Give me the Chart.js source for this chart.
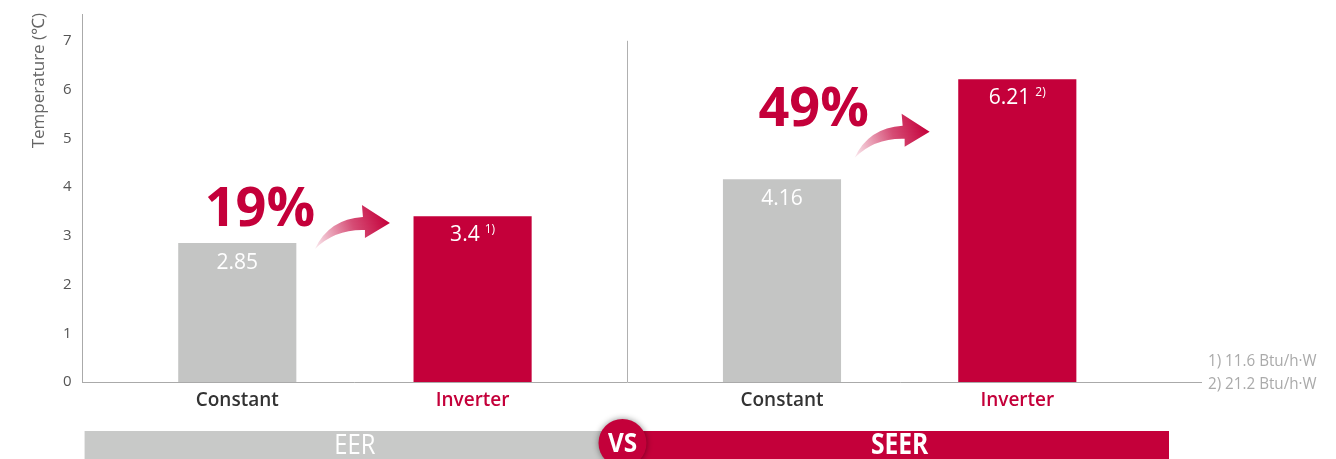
<!DOCTYPE html>
<html>
<head>
<meta charset="utf-8">
<script src="https://cdn.jsdelivr.net/npm/chart.js@4/dist/chart.umd.min.js"></script>
<style>
  html, body { margin: 0; padding: 0; background: #fff; }
  #wrap { width: 1336px; height: 459px; position: relative; }
</style>
</head>
<body>
<div id="wrap"><canvas id="c"></canvas></div>
<script>
// ---- data ----
const groups = ['EER', 'SEER'];
const seriesNames = ['Constant', 'Inverter'];
const constantValues = [2.85, 4.16];
const inverterValues = [3.4, 6.21];
const footnoteMarks = ['1)', '2)'];
const footnotes = ['1) 11.6 Btu/h\u00b7W', '2) 21.2 Btu/h\u00b7W'];
const gains = ['19%', '49%'];
const yTicks = [0, 1, 2, 3, 4, 5, 6, 7];
const yTitle = 'Temperature (\u2103)';

const GREY = '#c4c5c4';
const RED = '#c4003a';
const FONT = '"Open Sans", "Noto Sans", sans-serif';

function drawArrow(ctx, tx, ty) {
  const g = ctx.createLinearGradient(tx, ty, tx + 75, ty - 26);
  g.addColorStop(0, 'rgba(196,0,58,0.08)');
  g.addColorStop(0.55, 'rgba(196,0,58,0.7)');
  g.addColorStop(1, 'rgba(196,0,58,1)');
  ctx.save();
  ctx.fillStyle = g;
  ctx.beginPath();
  ctx.moveTo(tx, ty);
  ctx.quadraticCurveTo(tx + 14, ty - 30, tx + 48, ty - 32);
  ctx.lineTo(tx + 47, ty - 44);
  ctx.lineTo(tx + 75, ty - 26);
  ctx.lineTo(tx + 50, ty - 11);
  ctx.lineTo(tx + 50, ty - 19);
  ctx.quadraticCurveTo(tx + 20, ty - 20, tx, ty);
  ctx.closePath();
  ctx.fill();
  ctx.restore();
}

function condensedText(ctx, text, x, y, sx) {
  ctx.save();
  ctx.translate(x, y);
  ctx.scale(sx, 1);
  ctx.fillText(text, 0, 0);
  ctx.restore();
}

const decor = {
  id: 'decor',
  afterDatasetsDraw(chart) {
    const ctx = chart.ctx;
    const area = chart.chartArea;
    const xs = chart.scales.x, ys = chart.scales.y;
    const m0 = chart.getDatasetMeta(0).data;
    const m1 = chart.getDatasetMeta(1).data;
    ctx.save();

    // y-axis title (top aligned, rotated)
    ctx.save();
    ctx.translate(area.left - 43, area.top - 1);
    ctx.rotate(-Math.PI / 2);
    ctx.fillStyle = '#666666';
    ctx.font = '17px ' + FONT;
    ctx.textAlign = 'right';
    ctx.textBaseline = 'middle';
    ctx.fillText(yTitle, 0, 0);
    ctx.restore();

    // extended x-axis line
    ctx.strokeStyle = '#aaaaaa';
    ctx.lineWidth = 1;
    ctx.beginPath();
    ctx.moveTo(area.right, area.bottom + 0.5);
    ctx.lineTo(area.right + 30, area.bottom + 0.5);
    ctx.stroke();

    // divider
    const midX = Math.round((xs.getPixelForValue(0) + xs.getPixelForValue(1)) / 2) + 0.5;
    ctx.strokeStyle = '#b0b0b0';
    ctx.beginPath();
    ctx.moveTo(midX, ys.getPixelForValue(7));
    ctx.lineTo(midX, area.bottom);
    ctx.stroke();

    // value labels and category labels
    ctx.textBaseline = 'middle';
    for (let i = 0; i < groups.length; i++) {
      const b0 = m0[i], b1 = m1[i];
      ctx.fillStyle = '#ffffff';
      ctx.font = '21px ' + FONT;
      ctx.textAlign = 'center';
      ctx.fillText(String(constantValues[i]), b0.x, b0.y + 20);

      const main = String(inverterValues[i]);
      ctx.font = '21px ' + FONT;
      const wMain = ctx.measureText(main).width;
      ctx.font = '12px ' + FONT;
      const wSup = ctx.measureText(footnoteMarks[i]).width;
      const total = wMain + 5 + wSup;
      const left = b1.x - total / 2;
      ctx.textAlign = 'left';
      ctx.font = '21px ' + FONT;
      ctx.fillText(main, left, b1.y + 19);
      ctx.font = '12px ' + FONT;
      ctx.fillText(footnoteMarks[i], left + wMain + 5, b1.y + 13);

      ctx.textAlign = 'center';
      ctx.font = '600 19px ' + FONT;
      ctx.fillStyle = '#333333';
      ctx.fillText(seriesNames[0], b0.x, area.bottom + 19);
      ctx.fillStyle = RED;
      ctx.fillText(seriesNames[1], b1.x, area.bottom + 19);
    }

    // gain annotations
    ctx.fillStyle = RED;
    ctx.font = 'bold 54px ' + FONT;
    ctx.textAlign = 'center';
    ctx.textBaseline = 'alphabetic';
    ctx.fillText(gains[0], xs.getPixelForValue(0) - 95, ys.getPixelForValue(3.2));
    ctx.fillText(gains[1], xs.getPixelForValue(1) - 86, ys.getPixelForValue(5.25));
    drawArrow(ctx, xs.getPixelForValue(0) - 40, ys.getPixelForValue(2.73));
    drawArrow(ctx, xs.getPixelForValue(1) - 45, ys.getPixelForValue(4.6));

    // footnotes
    ctx.fillStyle = '#aaaaaa';
    ctx.font = '16px ' + FONT;
    ctx.textAlign = 'left';
    ctx.textBaseline = 'middle';
    condensedText(ctx, footnotes[0], area.right + 36, area.bottom - 21, 0.95);
    condensedText(ctx, footnotes[1], area.right + 36, area.bottom + 2, 0.95);

    // bottom band
    const bandTop = area.bottom + 49;
    const bandH = chart.height - bandTop;
    ctx.fillStyle = '#c8c9c8';
    ctx.fillRect(area.left + 2, bandTop, midX - area.left - 2, bandH);
    ctx.fillStyle = RED;
    ctx.fillRect(midX, bandTop, area.right - 3 - midX, bandH);
    ctx.fillStyle = '#ffffff';
    ctx.textAlign = 'center';
    ctx.textBaseline = 'middle';
    ctx.font = '28px ' + FONT;
    condensedText(ctx, groups[0], xs.getPixelForValue(0), bandTop + 15, 0.85);
    ctx.font = 'bold 28px ' + FONT;
    condensedText(ctx, groups[1], xs.getPixelForValue(1), bandTop + 15, 0.88);

    // VS badge
    ctx.save();
    ctx.shadowColor = 'rgba(0,0,0,0.45)';
    ctx.shadowBlur = 6;
    ctx.fillStyle = RED;
    ctx.beginPath();
    ctx.arc(midX - 5, bandTop + 12, 24, 0, Math.PI * 2);
    ctx.fill();
    ctx.restore();
    ctx.fillStyle = '#ffffff';
    ctx.font = 'bold 27px ' + FONT;
    condensedText(ctx, 'VS', midX - 5, bandTop + 13, 0.9);

    ctx.restore();
  }
};

new Chart(document.getElementById('c'), {
  type: 'bar',
  data: {
    labels: groups,
    datasets: [
      { label: seriesNames[0], data: constantValues, backgroundColor: GREY },
      { label: seriesNames[1], data: inverterValues, backgroundColor: RED }
    ]
  },
  options: {
    responsive: true,
    maintainAspectRatio: false,
    animation: false,
    events: [],
    categoryPercentage: 0.864,
    barPercentage: 0.502,
    layout: { padding: { top: 14, right: 164, bottom: 69, left: 60 } },
    plugins: { legend: { display: false }, tooltip: { enabled: false } },
    scales: {
      x: {
        grid: { display: false },
        border: { display: true, color: '#aaaaaa' },
        ticks: { display: false }
      },
      y: {
        min: 0,
        max: 7.55,
        afterBuildTicks(scale) { scale.ticks = yTicks.map(v => ({ value: v })); },
        grid: { display: false },
        border: { display: true, color: '#aaaaaa' },
        ticks: { color: '#555555', font: { family: FONT, size: 15 }, padding: 3 },
        title: { display: false }
      }
    }
  },
  plugins: [decor]
});
</script>
</body>
</html>
